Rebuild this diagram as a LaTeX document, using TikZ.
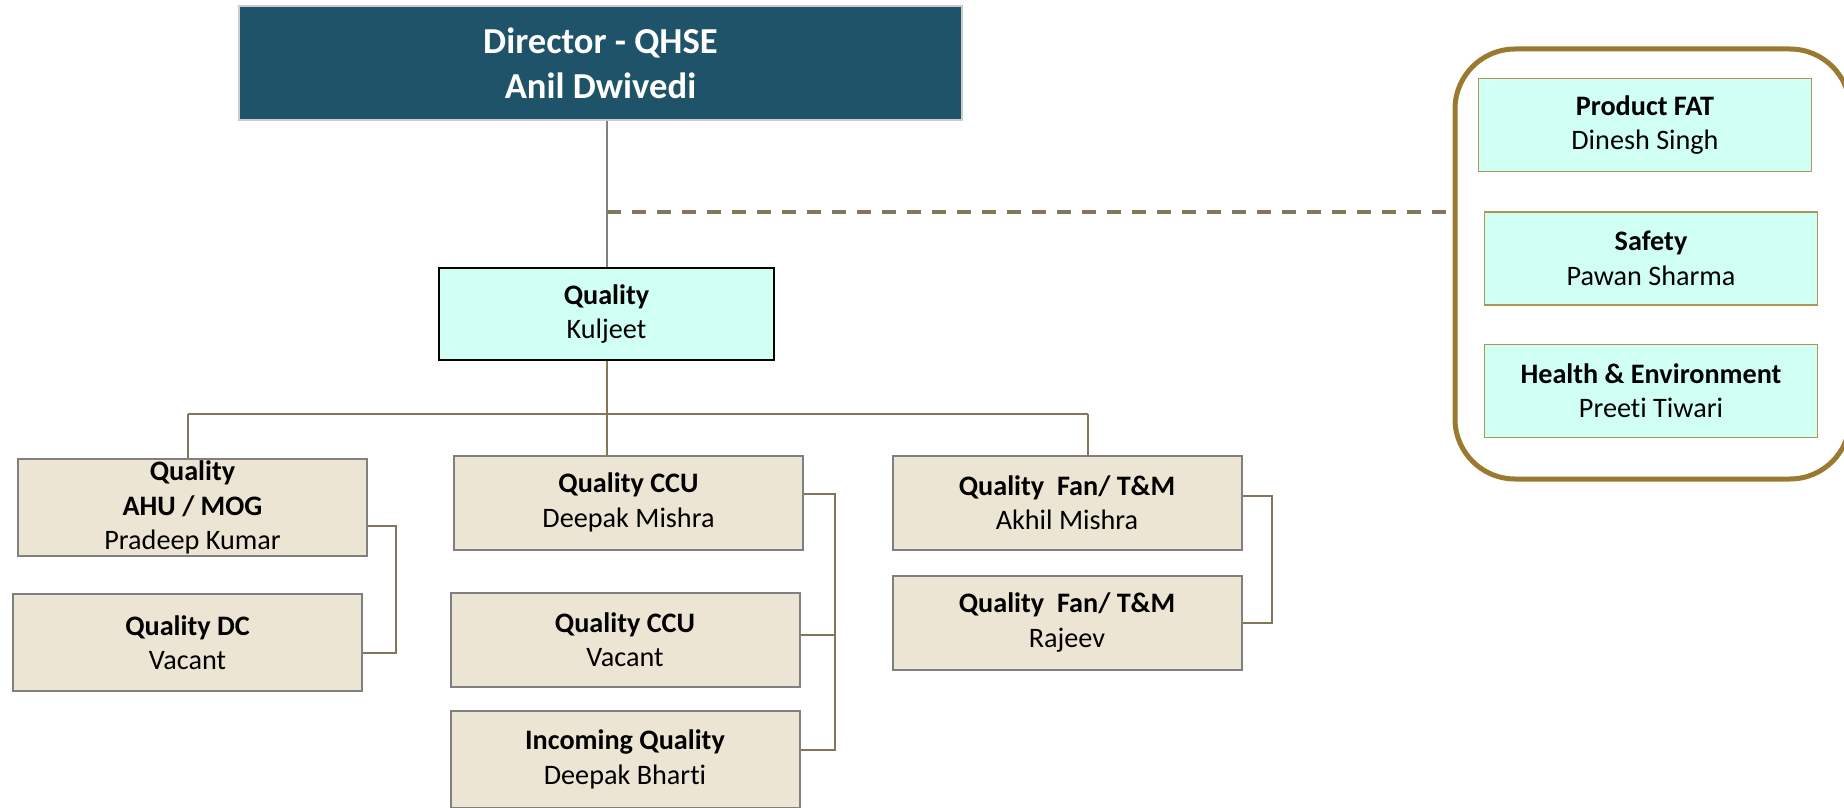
\documentclass[tikz,border=0pt]{standalone}
\usepackage{fontspec}
\setmainfont{Carlito}[Ligatures=NoCommon]
\usepackage{xcolor}
\usepackage{tikz}

\definecolor{headteal}{HTML}{1F5369}
\definecolor{mintfill}{HTML}{D0FFF3}
\definecolor{sandfill}{HTML}{EDE5D3}
\definecolor{linkbrown}{HTML}{857559}
\definecolor{framegold}{HTML}{9A7A30}

\begin{document}
\begin{tikzpicture}[x=0.5pt, y=-0.5pt,
    every node/.style={inner sep=0pt, align=center,
      font=\fontsize{14.1}{17.2}\selectfont},
    headbox/.style={fill=headteal, draw=gray!40, line width=0.8pt, text=white,
      minimum width=361.5pt, minimum height=57pt,
      font=\fontsize{18.3}{22.5}\selectfont\bfseries},
    leadbox/.style={fill=mintfill, draw=black, line width=0.8pt,
      minimum width=167.5pt, minimum height=46pt},
    unitbox/.style={fill=sandfill, draw=gray, line width=1pt,
      minimum width=174.5pt, minimum height=47pt},
    staffbox/.style={fill=mintfill, draw=framegold!80, line width=0.8pt,
      minimum width=166.5pt, minimum height=46.5pt},
    link/.style={draw=linkbrown, line width=1pt}]
  \useasboundingbox (0,0) rectangle (1844,808);

  % top of the chart
  \node[headbox] (dir) at (600.5,63) {Director - QHSE\\Anil Dwivedi};
  \node[leadbox] (qual) at (606.5,314) {\textbf{Quality}\\Kuljeet};

  % side group
  \node[draw=framegold, line width=2.5pt, rounded corners=30pt,
    minimum width=197.5pt, minimum height=215pt] (grp) at (1652.5,264) {};
  \node[staffbox] (fat) at (1645,125) {\textbf{Product FAT}\\Dinesh Singh};
  \node[staffbox] (safe) at (1651,258.5) {\textbf{Safety}\\Pawan Sharma};
  \node[staffbox] (henv) at (1651,391) {\textbf{Health \& Environment}\\Preeti Tiwari};

  % units
  \node[unitbox, minimum height=48.5pt] (ahu) at (192.5,507.5)
    {\textbf{Quality}\\\textbf{AHU / MOG}\\Pradeep Kumar};
  \node[unitbox, minimum height=48.5pt] (qdc) at (187.5,642.5) {\textbf{Quality DC}\\Vacant};
  \node[unitbox] (ccu1) at (628.5,502.5) {\textbf{Quality CCU}\\Deepak Mishra};
  \node[unitbox] (ccu2) at (625,640) {\textbf{Quality CCU}\\Vacant};
  \node[unitbox, minimum height=48.5pt] (inq) at (625,759.5) {\textbf{Incoming Quality}\\Deepak Bharti};
  \node[unitbox] (fan1) at (1067,502.5) {\textbf{Quality\ \ Fan/ T\&M}\\Akhil Mishra};
  \node[unitbox] (fan2) at (1067,622.5) {\textbf{Quality\ \ Fan/ T\&M}\\Rajeev};

  % connectors
  \coordinate (tap) at (607,212);
  \coordinate (busL) at (188,414);
  \coordinate (busR) at (1088,414);
  \coordinate (ahuR) at (396,0);
  \coordinate (ccuR) at (835,0);
  \coordinate (fanR) at (1272,0);

  \draw[draw=gray, line width=1pt] (dir.south -| tap) -- (qual.north -| tap);
  \draw[draw=linkbrown, line width=2pt, dash pattern=on 7pt off 5.5pt]
    (tap) -- (tap -| grp.west);

  \draw[link] (qual.south -| tap) -- (busL -| tap);
  \draw[link] (busL) -- (busR);
  \draw[link] (busL) -- (busL |- ahu.north);
  \draw[link] (busL -| tap) -- (tap |- ccu1.north);
  \draw[link] (busR) -- (busR |- fan1.north);

  \draw[link] ([yshift=-9pt]ahu.east) -| ([yshift=-5pt]qdc.east -| ahuR)
    -- ([yshift=-5pt]qdc.east);
  \draw[link] ([yshift=4.25pt]ccu1.east) -| ([yshift=4.75pt]inq.east -| ccuR)
    -- ([yshift=4.75pt]inq.east);
  \draw[link] ([yshift=2.5pt]ccu2.east) -- ([yshift=2.5pt]ccu2.east -| ccuR);
  \draw[link] ([yshift=3.25pt]fan1.east) -| (fan2.east -| fanR) -- (fan2.east);
\end{tikzpicture}
\end{document}
